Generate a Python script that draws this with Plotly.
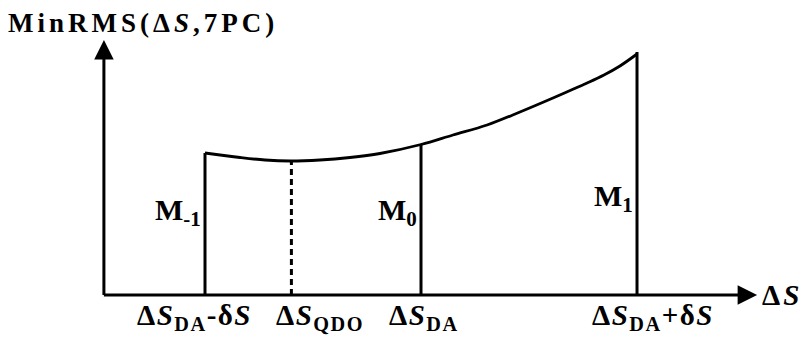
import plotly.graph_objects as go

# ---- data (schematic values) ----
s_curve = [-1.0, -0.838, -0.722, -0.606, -0.468, -0.329, -0.19, 0.0,
           0.148, 0.306, 0.458, 0.611, 0.769, 0.847, 0.921, 1.0]
rms_curve = [1.42, 1.375, 1.35, 1.34, 1.35, 1.375, 1.415, 1.505,
             1.60, 1.70, 1.83, 1.97, 2.12, 2.20, 2.29, 2.41]

line_s = [-1.0, -0.6, 0.0, 1.0]
line_rms = [1.42, 1.34, 1.505, 2.43]
line_dash = ["solid", "6px,4px", "solid", "solid"]
tick_labels = ["Δ<i>S</i><sub>DA</sub>-δ<i>S</i>", "Δ<i>S</i><sub>QDO</sub>",
               "Δ<i>S</i><sub>DA</sub>", "Δ<i>S</i><sub>DA</sub>+δ<i>S</i>"]
tick_shift = [-70, -17, -34, -47]
m_labels = ["M<sub>-1</sub>", None, "M<sub>0</sub>", "M<sub>1</sub>"]
m_level = [0.83, None, 0.83, 0.97]

title_text = "MinRMS(Δ<i>S</i>,7PC)"
x_axis_label = "Δ<i>S</i>"
s_origin, s_end = -1.468, 1.556
rms_origin, rms_end = 0.0, 2.55

FONT = "Liberation Serif"


def spaced(txt, px):
    return '<span style="letter-spacing:%spx">%s</span>' % (px, txt)


fig = go.Figure()

fig.add_trace(go.Scatter(x=s_curve, y=rms_curve, mode="lines",
                         line=dict(color="black", width=2.8, shape="spline", smoothing=1),
                         hoverinfo="skip", showlegend=False))

for s, r, d in zip(line_s, line_rms, line_dash):
    fig.add_trace(go.Scatter(x=[s, s], y=[rms_origin, r], mode="lines",
                             line=dict(color="black", width=3, dash=d),
                             hoverinfo="skip", showlegend=False))

annotations = []
# axes with arrowheads
annotations.append(dict(x=s_origin, y=rms_end, ax=s_origin, ay=rms_origin - 0.015,
                        xref="x", yref="y", axref="x", ayref="y", text="",
                        showarrow=True, arrowhead=2, arrowsize=1.3, arrowwidth=3,
                        arrowcolor="black"))
annotations.append(dict(x=s_end, y=rms_origin, ax=s_origin - 0.007, ay=rms_origin,
                        xref="x", yref="y", axref="x", ayref="y", text="",
                        showarrow=True, arrowhead=2, arrowsize=1.3, arrowwidth=3,
                        arrowcolor="black"))

bold = dict(family=FONT, size=29, color="black", weight="bold")

annotations.append(dict(x=s_end, y=rms_origin, xref="x", yref="y",
                        text="<b>" + spaced(x_axis_label, 3) + "</b>",
                        showarrow=False, xanchor="left", yanchor="middle", xshift=3,
                        font=bold))
annotations.append(dict(x=0.0, y=1.0, xref="paper", yref="paper",
                        text="<b>" + spaced(title_text, 4) + "</b>", showarrow=False,
                        xanchor="left", yanchor="top", xshift=-2, yshift=2,
                        font=dict(family=FONT, size=27, color="black", weight="bold")))

for s, lab, sh in zip(line_s, tick_labels, tick_shift):
    annotations.append(dict(x=s, y=rms_origin, xref="x", yref="y",
                            text="<b>" + spaced(lab, 1.5) + "</b>",
                            showarrow=False, xanchor="left", yanchor="top",
                            xshift=sh, yshift=-2, font=bold))

for s, lab, lv in zip(line_s, m_labels, m_level):
    if lab is None:
        continue
    annotations.append(dict(x=s, y=lv, xref="x", yref="y", text="<b>" + lab + "</b>",
                            showarrow=False, xanchor="right", yanchor="middle",
                            xshift=-2, font=dict(family=FONT, size=30, color="black", weight="bold")))

# page has an 8px body margin: ranges chosen so page pixel = 421 + 216*s, 295 - 100*rms
fig.update_layout(
    width=807, height=338,
    margin=dict(l=0, r=0, t=0, b=0),
    paper_bgcolor="white", plot_bgcolor="white",
    xaxis=dict(range=[-1.912, 1.824], visible=False, fixedrange=True),
    yaxis=dict(range=[-0.51, 2.87], visible=False, fixedrange=True),
    annotations=annotations,
    showlegend=False,
)

fig.write_html("out.html")
